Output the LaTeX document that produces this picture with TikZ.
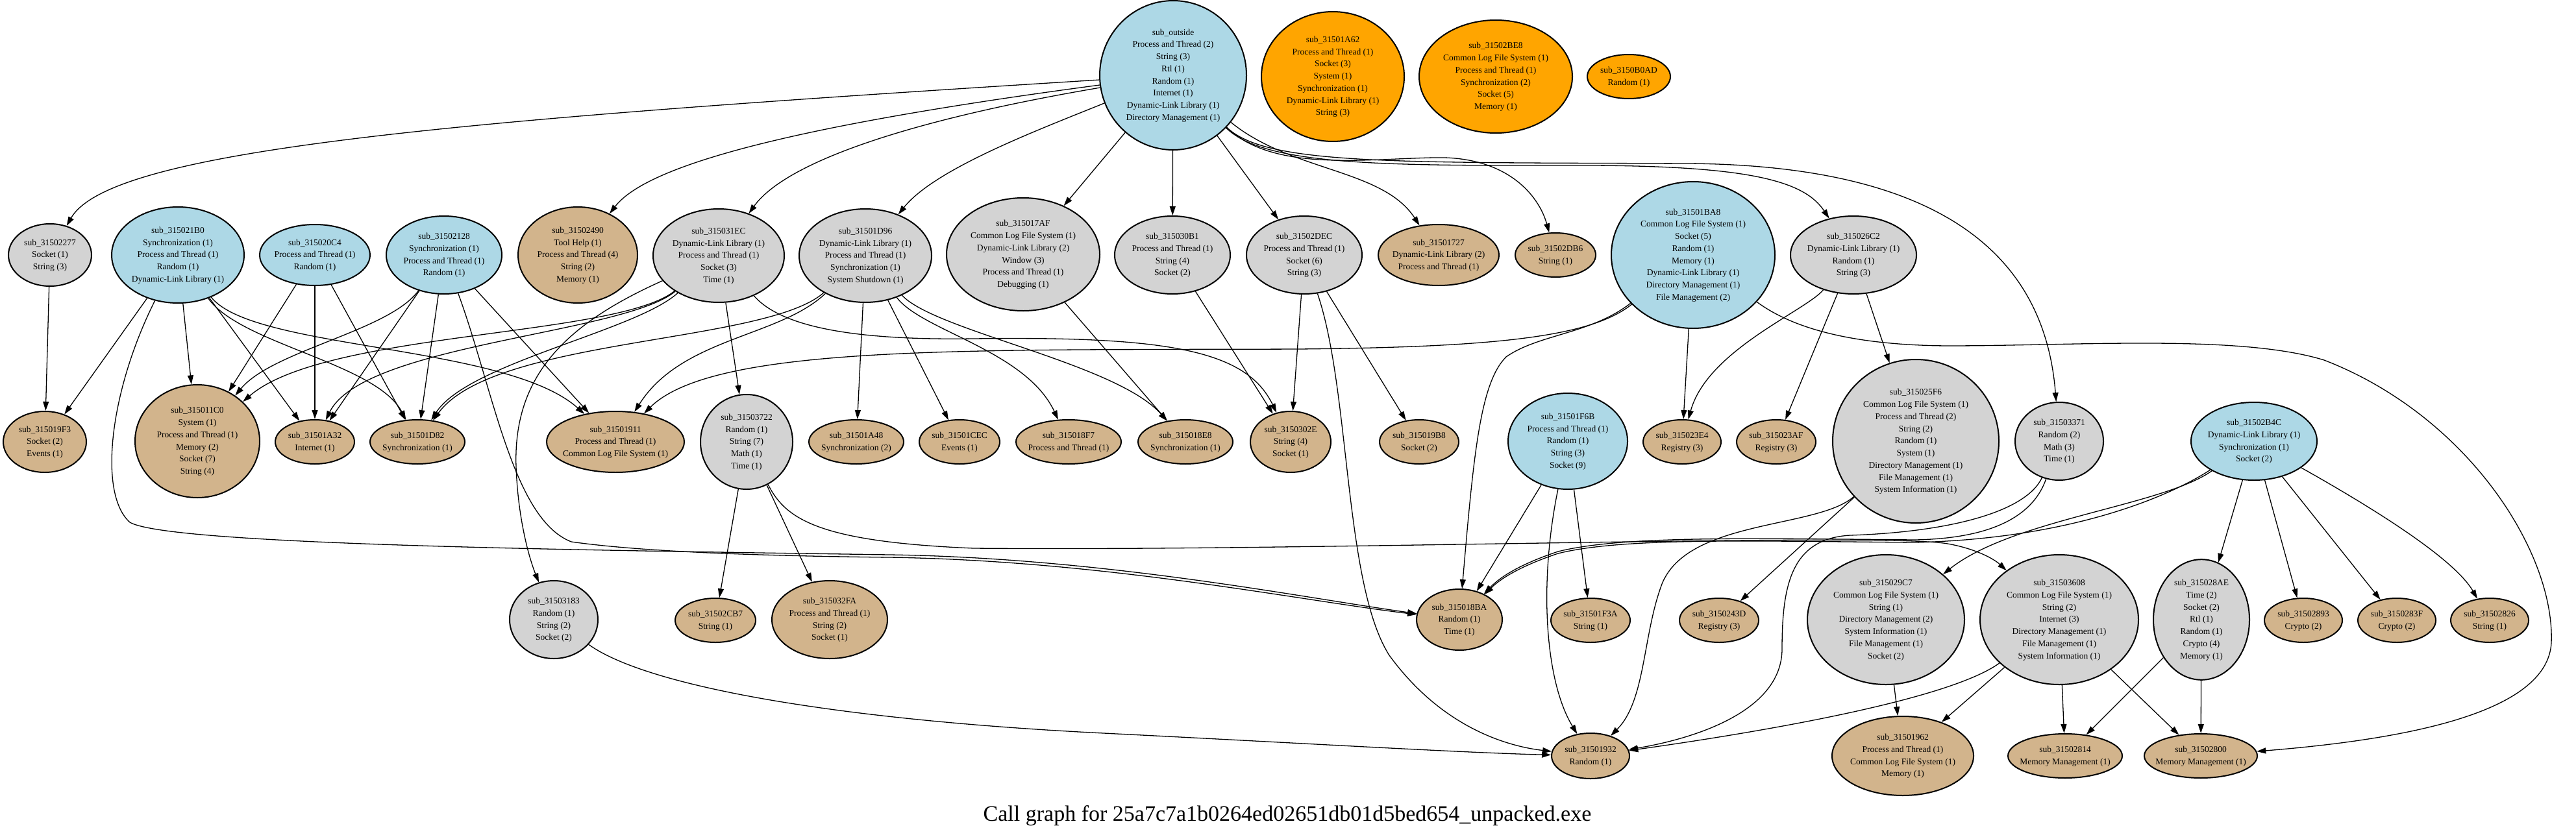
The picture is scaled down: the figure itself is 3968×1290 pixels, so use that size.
\documentclass[tikz,border=0pt]{standalone}
\usepackage{fontspec}
\setmainfont{Liberation Serif}
\usetikzlibrary{shapes.geometric,arrows.meta}
\definecolor{cblue}{HTML}{ADD8E6}
\definecolor{cgrey}{HTML}{D3D3D3}
\definecolor{ctan}{HTML}{D2B48C}
\definecolor{corange}{HTML}{FFA500}
\newcommand{\nlab}[1]{\makebox[0pt]{\begin{tabular}{@{}c@{}}#1\end{tabular}}}
\begin{document}
\begin{tikzpicture}[x=1pt,y=-1pt,
  fn/.style={ellipse,draw=black,line width=2pt,inner sep=0pt,font=\fontsize{13.5}{18.75}\selectfont},
  sz/.style 2 args={minimum width=#1pt,minimum height=#2pt},
  nblue/.style={fn,fill=cblue},
  ngrey/.style={fn,fill=cgrey},
  ntan/.style={fn,fill=ctan},
  norange/.style={fn,fill=corange},
  cg/.style={draw=black,line width=1.3pt,-{Triangle[length=14pt,width=9pt]}}]
\useasboundingbox (0,0) rectangle (3968,1290);
% row 1
\node[nblue,sz={226}{230}] (out) at (1807,116) {\nlab{sub\_outside\\Process and Thread (2)\\String (3)\\Rtl (1)\\Random (1)\\Internet (1)\\Dynamic-Link Library (1)\\Directory Management (1)}};
\node[norange,sz={220}{200}] (A62) at (2053,118) {\nlab{sub\_31501A62\\Process and Thread (1)\\Socket (3)\\System (1)\\Synchronization (1)\\Dynamic-Link Library (1)\\String (3)}};
\node[norange,sz={236}{174}] (BE8) at (2304,118) {\nlab{sub\_31502BE8\\Common Log File System (1)\\Process and Thread (1)\\Synchronization (2)\\Socket (5)\\Memory (1)}};
\node[norange,sz={128}{68}] (B0AD) at (2509,118) {\nlab{sub\_3150B0AD\\Random (1)}};
% row 2
\node[ngrey,sz={128}{96}] (n2277) at (77,393) {\nlab{sub\_31502277\\Socket (1)\\String (3)}};
\node[nblue,sz={204}{148}] (n21B0) at (274,393) {\nlab{sub\_315021B0\\Synchronization (1)\\Process and Thread (1)\\Random (1)\\Dynamic-Link Library (1)}};
\node[nblue,sz={170}{94}] (n20C4) at (485,393) {\nlab{sub\_315020C4\\Process and Thread (1)\\Random (1)}};
\node[nblue,sz={178}{120}] (n2128) at (684,393) {\nlab{sub\_31502128\\Synchronization (1)\\Process and Thread (1)\\Random (1)}};
\node[ntan,sz={184}{148}] (n2490) at (890,393) {\nlab{sub\_31502490\\Tool Help (1)\\Process and Thread (4)\\String (2)\\Memory (1)}};
\node[ngrey,sz={202}{144}] (n31EC) at (1107,394) {\nlab{sub\_315031EC\\Dynamic-Link Library (1)\\Process and Thread (1)\\Socket (3)\\Time (1)}};
\node[ngrey,sz={204}{144}] (n1D96) at (1333,394) {\nlab{sub\_31501D96\\Dynamic-Link Library (1)\\Process and Thread (1)\\Synchronization (1)\\System Shutdown (1)}};
\node[ngrey,sz={236}{174}] (n17AF) at (1576,392) {\nlab{sub\_315017AF\\Common Log File System (1)\\Dynamic-Link Library (2)\\Window (3)\\Process and Thread (1)\\Debugging (1)}};
\node[ngrey,sz={178}{120}] (n30B1) at (1806,393) {\nlab{sub\_315030B1\\Process and Thread (1)\\String (4)\\Socket (2)}};
\node[ngrey,sz={178}{120}] (n2DEC) at (2009,393) {\nlab{sub\_31502DEC\\Process and Thread (1)\\Socket (6)\\String (3)}};
\node[ntan,sz={186}{94}] (n1727) at (2216,393) {\nlab{sub\_31501727\\Dynamic-Link Library (2)\\Process and Thread (1)}};
\node[ntan,sz={124}{68}] (n2DB6) at (2396,393) {\nlab{sub\_31502DB6\\String (1)}};
\node[nblue,sz={252}{226}] (n1BA8) at (2608,393) {\nlab{sub\_31501BA8\\Common Log File System (1)\\Socket (5)\\Random (1)\\Memory (1)\\Dynamic-Link Library (1)\\Directory Management (1)\\File Management (2)}};
\node[ngrey,sz={194}{120}] (n26C2) at (2855,393) {\nlab{sub\_315026C2\\Dynamic-Link Library (1)\\Random (1)\\String (3)}};
% row 3
\node[ntan,sz={128}{94}] (n19F3) at (69,681) {\nlab{sub\_315019F3\\Socket (2)\\Events (1)}};
\node[ntan,sz={192}{174}] (n11C0) at (304,680) {\nlab{sub\_315011C0\\System (1)\\Process and Thread (1)\\Memory (2)\\Socket (7)\\String (4)}};
\node[ntan,sz={122}{68}] (n1A32) at (485,681) {\nlab{sub\_31501A32\\Internet (1)}};
\node[ntan,sz={146}{68}] (n1D82) at (643,681) {\nlab{sub\_31501D82\\Synchronization (1)}};
\node[ntan,sz={212}{94}] (n1911) at (948,681) {\nlab{sub\_31501911\\Process and Thread (1)\\Common Log File System (1)}};
\node[ngrey,sz={142}{146}] (n3722) at (1150,681) {\nlab{sub\_31503722\\Random (1)\\String (7)\\Math (1)\\Time (1)}};
\node[ntan,sz={146}{68}] (n1A48) at (1319,681) {\nlab{sub\_31501A48\\Synchronization (2)}};
\node[ntan,sz={124}{68}] (n1CEC) at (1478,681) {\nlab{sub\_31501CEC\\Events (1)}};
\node[ntan,sz={162}{68}] (n18F7) at (1646,681) {\nlab{sub\_315018F7\\Process and Thread (1)}};
\node[ntan,sz={146}{68}] (n18E8) at (1826,681) {\nlab{sub\_315018E8\\Synchronization (1)}};
\node[ntan,sz={124}{94}] (n302E) at (1988,681) {\nlab{sub\_3150302E\\String (4)\\Socket (1)}};
\node[ntan,sz={122}{68}] (n19B8) at (2186,681) {\nlab{sub\_315019B8\\Socket (2)}};
\node[nblue,sz={184}{148}] (n1F6B) at (2415,680) {\nlab{sub\_31501F6B\\Process and Thread (1)\\Random (1)\\String (3)\\Socket (9)}};
\node[ntan,sz={120}{68}] (n23E4) at (2591,681) {\nlab{sub\_315023E4\\Registry (3)}};
\node[ntan,sz={122}{68}] (n23AF) at (2736,681) {\nlab{sub\_315023AF\\Registry (3)}};
\node[ngrey,sz={256}{252}] (n25F6) at (2951,680) {\nlab{sub\_315025F6\\Common Log File System (1)\\Process and Thread (2)\\String (2)\\Random (1)\\System (1)\\Directory Management (1)\\File Management (1)\\System Information (1)}};
\node[ngrey,sz={136}{120}] (n3371) at (3172,680) {\nlab{sub\_31503371\\Random (2)\\Math (3)\\Time (1)}};
\node[nblue,sz={194}{120}] (n2B4C) at (3472,680) {\nlab{sub\_31502B4C\\Dynamic-Link Library (1)\\Synchronization (1)\\Socket (2)}};
% row 4
\node[ngrey,sz={136}{120}] (n3183) at (853,955) {\nlab{sub\_31503183\\Random (1)\\String (2)\\Socket (2)}};
\node[ntan,sz={124}{68}] (n2CB7) at (1102,956) {\nlab{sub\_31502CB7\\String (1)}};
\node[ntan,sz={178}{120}] (n32FA) at (1278,955) {\nlab{sub\_315032FA\\Process and Thread (1)\\String (2)\\Socket (1)}};
\node[ntan,sz={132}{94}] (n18BA) at (2248,955) {\nlab{sub\_315018BA\\Random (1)\\Time (1)}};
\node[ntan,sz={122}{68}] (n1F3A) at (2450,956) {\nlab{sub\_31501F3A\\String (1)}};
\node[ntan,sz={122}{68}] (n243D) at (2648,956) {\nlab{sub\_3150243D\\Registry (3)}};
\node[ngrey,sz={242}{200}] (n29C7) at (2905,955) {\nlab{sub\_315029C7\\Common Log File System (1)\\String (1)\\Directory Management (2)\\System Information (1)\\File Management (1)\\Socket (2)}};
\node[ngrey,sz={244}{200}] (n3608) at (3172,955) {\nlab{sub\_31503608\\Common Log File System (1)\\String (2)\\Internet (3)\\Directory Management (1)\\File Management (1)\\System Information (1)}};
\node[ngrey,sz={148}{184}] (n28AE) at (3391,955) {\nlab{sub\_315028AE\\Time (2)\\Socket (2)\\Rtl (1)\\Random (1)\\Crypto (4)\\Memory (1)}};
\node[ntan,sz={120}{68}] (n2893) at (3548,956) {\nlab{sub\_31502893\\Crypto (2)}};
\node[ntan,sz={120}{68}] (n283F) at (3692,956) {\nlab{sub\_3150283F\\Crypto (2)}};
\node[ntan,sz={120}{68}] (n2826) at (3835,956) {\nlab{sub\_31502826\\String (1)}};
% row 5
\node[ntan,sz={120}{70}] (n1932) at (2450,1165) {\nlab{sub\_31501932\\Random (1)}};
\node[ntan,sz={218}{122}] (n1962) at (2931,1165) {\nlab{sub\_31501962\\Process and Thread (1)\\Common Log File System (1)\\Memory (1)}};
\node[ntan,sz={176}{68}] (n2814) at (3181,1165) {\nlab{sub\_31502814\\Memory Management (1)}};
\node[ntan,sz={174}{68}] (n2800) at (3390,1165) {\nlab{sub\_31502800\\Memory Management (1)}};
% title
\node[anchor=base,inner sep=0pt,font=\fontsize{34}{40}\selectfont] (title) at (1983,1265) {Call graph for 25a7c7a1b0264ed02651db01d5bed654\_unpacked.exe};
% edges from sub_outside
\draw[cg] (out) .. controls (700,185) and (170,230) .. (n2277);
\draw[cg] (out) .. controls (1250,190) and (1000,250) .. (n2490);
\draw[cg] (out) .. controls (1400,185) and (1210,250) .. (n31EC);
\draw[cg] (out) .. controls (1600,200) and (1440,260) .. (n1D96);
\draw[cg] (out) -- (n17AF);
\draw[cg] (out) -- (n30B1);
\draw[cg] (out) -- (n2DEC);
\draw[cg] (out) .. controls (1990,265) and (2130,260) .. (n1727);
\draw[cg] (out) .. controls (1960,265) and (2100,245) .. (2209,243) .. controls (2320,240) and (2370,300) .. (n2DB6);
\draw[cg] (out) .. controls (1950,258) and (2150,255) .. (2450,255) .. controls (2700,256) and (2780,280) .. (n26C2);
\draw[cg] (out) .. controls (1950,255) and (2150,250) .. (2600,252) .. controls (3000,255) and (3150,400) .. (n3371);
% left group
\draw[cg] (n2277) -- (n19F3);
\draw[cg] (n21B0) -- (n19F3);
\draw[cg] (n21B0) -- (n11C0);
\draw[cg] (n21B0) -- (n1A32);
\draw[cg] (n21B0) .. controls (370,530) and (580,560) .. (n1D82);
\draw[cg] (n21B0) .. controls (390,540) and (780,530) .. (n1911);
\draw[cg] (n21B0) .. controls (170,600) and (150,760) .. (200,805) .. controls (260,840) and (900,848) .. (1370,855) .. controls (1700,860) and (2000,920) .. (n18BA);
\draw[cg] (n20C4) -- (n11C0);
\draw[cg] (n20C4) -- (n1A32);
\draw[cg] (n20C4) -- (n1D82);
\draw[cg] (n2128) .. controls (600,510) and (420,540) .. (n11C0);
\draw[cg] (n2128) -- (n1A32);
\draw[cg] (n2128) -- (n1D82);
\draw[cg] (n2128) -- (n1911);
\draw[cg] (n2128) .. controls (760,600) and (790,800) .. (880,835) .. controls (1000,852) and (1200,857) .. (1370,859) .. controls (1700,864) and (2000,925) .. (n18BA);
\draw[cg] (n31EC) .. controls (950,520) and (500,510) .. (n11C0);
\draw[cg] (n31EC) .. controls (960,515) and (560,530) .. (n1A32);
\draw[cg] (n31EC) .. controls (980,510) and (720,560) .. (n1D82);
\draw[cg] (n31EC) -- (n3722);
\draw[cg] (n31EC) .. controls (870,500) and (790,580) .. (795,720) .. controls (798,800) and (815,860) .. (n3183);
\draw[cg] (n31EC) .. controls (1200,500) and (1300,525) .. (1500,522) .. controls (1800,518) and (1920,540) .. (n302E);
\draw[cg] (n1D96) .. controls (1200,520) and (1050,520) .. (n1911);
\draw[cg] (n1D96) .. controls (1180,530) and (760,520) .. (n1D82);
\draw[cg] (n1D96) -- (n1A48);
\draw[cg] (n1D96) -- (n1CEC);
\draw[cg] (n1D96) .. controls (1420,510) and (1580,540) .. (n18F7);
\draw[cg] (n1D96) .. controls (1440,510) and (1720,560) .. (n18E8);
\draw[cg] (n17AF) -- (n18E8);
\draw[cg] (n30B1) -- (n302E);
\draw[cg] (n2DEC) -- (n302E);
\draw[cg] (n2DEC) -- (n19B8);
\draw[cg] (n2DEC) .. controls (2080,600) and (2070,900) .. (2140,1010) .. controls (2220,1120) and (2320,1150) .. (n1932);
% 31501BA8
\draw[cg] (n1BA8) .. controls (2450,520) and (2300,535) .. (2000,538) .. controls (1500,540) and (1100,530) .. (n1911);
\draw[cg] (n1BA8) .. controls (2450,515) and (2370,515) .. (2320,550) .. controls (2280,590) and (2270,700) .. (n18BA);
\draw[cg] (n1BA8) -- (n23E4);
\draw[cg] (n1BA8) .. controls (2760,505) and (2850,532) .. (3000,533) .. controls (3200,533) and (3450,515) .. (3580,555) .. controls (3800,640) and (3935,850) .. (3930,990) .. controls (3925,1100) and (3700,1140) .. (n2800);
% 315026C2
\draw[cg] (n26C2) .. controls (2780,480) and (2630,540) .. (n23E4);
\draw[cg] (n26C2) -- (n23AF);
\draw[cg] (n26C2) -- (n25F6);
% 31501F6B
\draw[cg] (n1F6B) -- (n18BA);
\draw[cg] (n1F6B) -- (n1F3A);
\draw[cg] (n1F6B) .. controls (2370,900) and (2380,1050) .. (n1932);
% 315025F6
\draw[cg] (n25F6) -- (n243D);
\draw[cg] (n25F6) .. controls (2800,815) and (2600,800) .. (2560,900) .. controls (2530,980) and (2535,1080) .. (n1932);
% 31503722
\draw[cg] (n3722) -- (n2CB7);
\draw[cg] (n3722) -- (n32FA);
\draw[cg] (n3722) .. controls (1210,800) and (1260,835) .. (1500,845) .. controls (2000,850) and (2900,820) .. (3000,838) .. controls (3040,845) and (3070,860) .. (n3608);
% 31503183
\draw[cg] (n3183) .. controls (1000,1060) and (1300,1110) .. (1700,1130) .. controls (2000,1145) and (2250,1160) .. (n1932);
% 31503371
\draw[cg] (n3371) .. controls (3130,800) and (3060,830) .. (2950,832) .. controls (2700,830) and (2500,825) .. (2400,850) .. controls (2340,870) and (2310,890) .. (n18BA);
\draw[cg] (n3371) .. controls (3120,790) and (3000,820) .. (2850,825) .. controls (2760,830) and (2745,900) .. (2745,1000) .. controls (2745,1100) and (2600,1140) .. (n1932);
% 31502B4C
\draw[cg] (n2B4C) .. controls (3350,760) and (3200,830) .. (2950,836) .. controls (2700,834) and (2500,828) .. (2400,853) .. controls (2340,873) and (2310,893) .. (n18BA);
\draw[cg] (n2B4C) .. controls (3330,780) and (3100,800) .. (n29C7);
\draw[cg] (n2B4C) -- (n28AE);
\draw[cg] (n2B4C) -- (n2893);
\draw[cg] (n2B4C) -- (n283F);
\draw[cg] (n2B4C) .. controls (3650,780) and (3780,860) .. (n2826);
% lower right
\draw[cg] (n29C7) -- (n1962);
\draw[cg] (n3608) -- (n1962);
\draw[cg] (n3608) .. controls (3000,1080) and (2700,1130) .. (n1932);
\draw[cg] (n3608) -- (n2814);
\draw[cg] (n3608) -- (n2800);
\draw[cg] (n28AE) -- (n2814);
\draw[cg] (n28AE) -- (n2800);
\end{tikzpicture}
\end{document}
